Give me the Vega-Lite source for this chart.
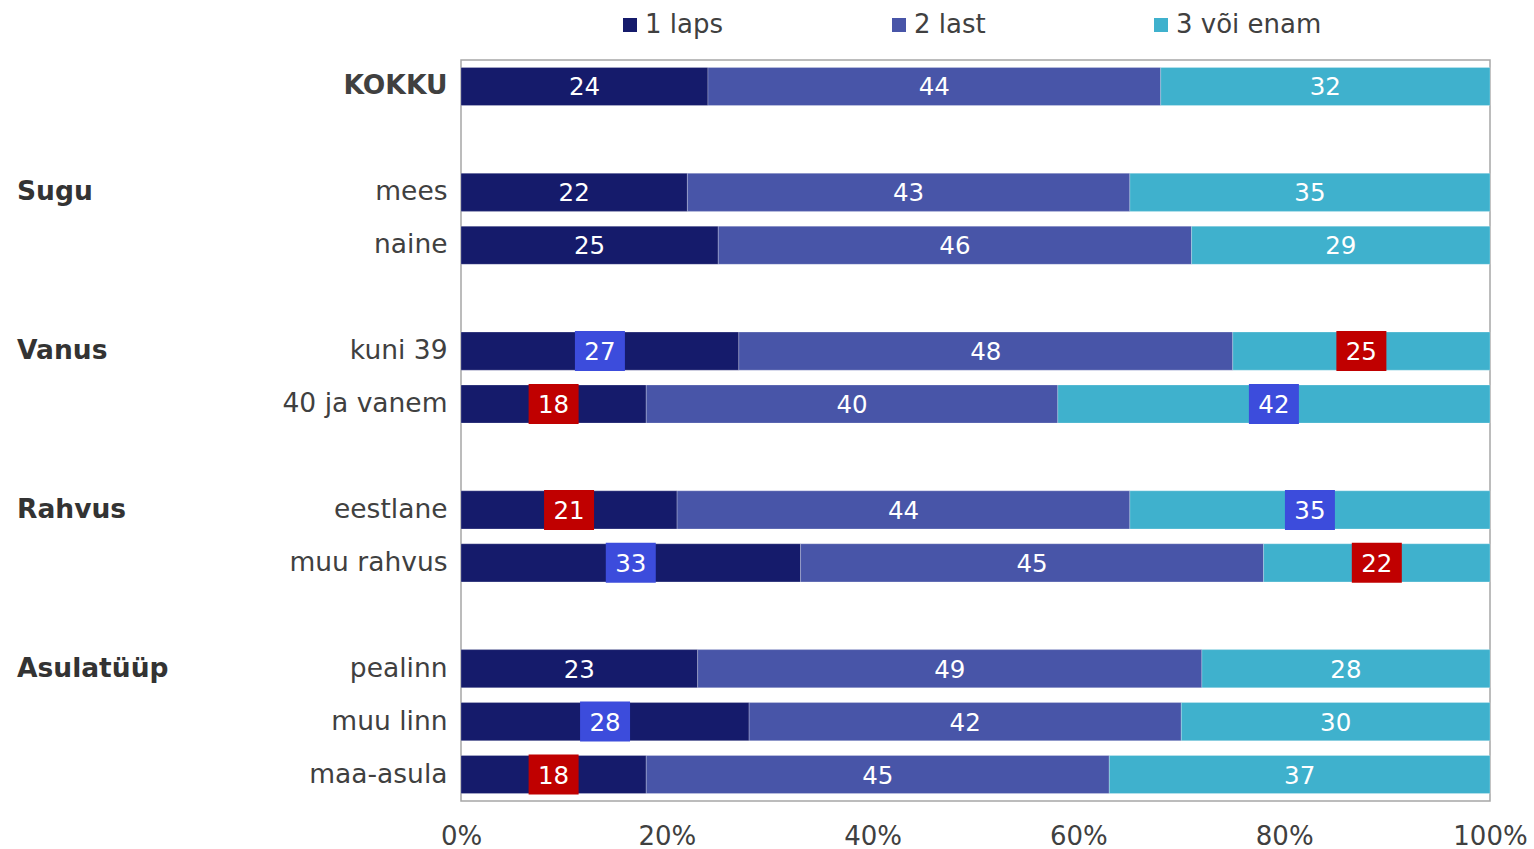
{
  "$schema": "https://vega.github.io/schema/vega-lite/v6.json",
  "width": 1029,
  "height": 741,
  "autosize": {"type": "none"},
  "padding": {"left": 461, "top": 60, "right": 44, "bottom": 48},
  "config": {
    "font": "DejaVu Sans",
    "view": {"stroke": "#a6a6a6", "strokeWidth": 1.5}
  },
  "datasets": {
    "bars": [
      {"row": "KOKKU", "cat": "1 laps", "v": 24, "sig": "n"},
      {"row": "KOKKU", "cat": "2 last", "v": 44, "sig": "n"},
      {"row": "KOKKU", "cat": "3 või enam", "v": 32, "sig": "n"},
      {"row": "mees", "cat": "1 laps", "v": 22, "sig": "n"},
      {"row": "mees", "cat": "2 last", "v": 43, "sig": "n"},
      {"row": "mees", "cat": "3 või enam", "v": 35, "sig": "n"},
      {"row": "naine", "cat": "1 laps", "v": 25, "sig": "n"},
      {"row": "naine", "cat": "2 last", "v": 46, "sig": "n"},
      {"row": "naine", "cat": "3 või enam", "v": 29, "sig": "n"},
      {"row": "kuni 39", "cat": "1 laps", "v": 27, "sig": "h"},
      {"row": "kuni 39", "cat": "2 last", "v": 48, "sig": "n"},
      {"row": "kuni 39", "cat": "3 või enam", "v": 25, "sig": "l"},
      {"row": "40 ja vanem", "cat": "1 laps", "v": 18, "sig": "l"},
      {"row": "40 ja vanem", "cat": "2 last", "v": 40, "sig": "n"},
      {"row": "40 ja vanem", "cat": "3 või enam", "v": 42, "sig": "h"},
      {"row": "eestlane", "cat": "1 laps", "v": 21, "sig": "l"},
      {"row": "eestlane", "cat": "2 last", "v": 44, "sig": "n"},
      {"row": "eestlane", "cat": "3 või enam", "v": 35, "sig": "h"},
      {"row": "muu rahvus", "cat": "1 laps", "v": 33, "sig": "h"},
      {"row": "muu rahvus", "cat": "2 last", "v": 45, "sig": "n"},
      {"row": "muu rahvus", "cat": "3 või enam", "v": 22, "sig": "l"},
      {"row": "pealinn", "cat": "1 laps", "v": 23, "sig": "n"},
      {"row": "pealinn", "cat": "2 last", "v": 49, "sig": "n"},
      {"row": "pealinn", "cat": "3 või enam", "v": 28, "sig": "n"},
      {"row": "muu linn", "cat": "1 laps", "v": 28, "sig": "h"},
      {"row": "muu linn", "cat": "2 last", "v": 42, "sig": "n"},
      {"row": "muu linn", "cat": "3 või enam", "v": 30, "sig": "n"},
      {"row": "maa-asula", "cat": "1 laps", "v": 18, "sig": "l"},
      {"row": "maa-asula", "cat": "2 last", "v": 45, "sig": "n"},
      {"row": "maa-asula", "cat": "3 või enam", "v": 37, "sig": "n"}
    ],
    "groups": [
      {"row": "mees", "g": "Sugu"},
      {"row": "kuni 39", "g": "Vanus"},
      {"row": "eestlane", "g": "Rahvus"},
      {"row": "pealinn", "g": "Asulatüüp"}
    ]
  },
  "layer": [
    {
      "data": {"name": "bars"},
      "mark": {"type": "bar", "stroke": "#ffffff", "strokeWidth": 0.6, "strokeOpacity": 0.4},
      "encoding": {
        "y": {
          "field": "row", "type": "nominal", "sort": null, "title": null,
          "scale": {
            "domain": ["KOKKU", " ", "mees", "naine", "  ", "kuni 39", "40 ja vanem", "   ", "eestlane", "muu rahvus", "    ", "pealinn", "muu linn", "maa-asula"],
            "paddingInner": 0.28, "paddingOuter": 0.14
          },
          "axis": {
            "title": null, "domain": false, "ticks": false,
            "labelFontSize": 26.5, "labelColor": "#404040", "labelPadding": 14,
            "labelFontWeight": {"condition": {"test": "datum.value === 'KOKKU'", "value": "bold"}, "value": "normal"}
          }
        },
        "x": {
          "field": "v", "type": "quantitative", "stack": "normalize", "title": null,
          "scale": {"domain": [0, 1]},
          "axis": {
            "title": null, "format": "%", "values": [0, 0.2, 0.4, 0.6, 0.8, 1],
            "grid": false, "domain": false, "ticks": false, "labelFlush": false,
            "labelFontSize": 26, "labelColor": "#404040", "labelPadding": 22
          }
        },
        "order": {"field": "cat", "sort": "ascending"},
        "color": {
          "field": "cat", "type": "nominal",
          "scale": {"domain": ["1 laps", "2 last", "3 või enam"], "range": ["#151B6B", "#4855A8", "#3FB1CD"]},
          "legend": {
            "orient": "none", "legendX": 156, "legendY": -48, "direction": "horizontal",
            "title": null, "symbolType": "square", "symbolSize": 196, "symbolStrokeWidth": 0,
            "labelFontSize": 26, "labelColor": "#404040", "columnPadding": 162, "labelOffset": 2
          }
        }
      }
    },
    {
      "data": {"name": "bars"},
      "mark": {"type": "point", "shape": "M-1.25,-1H1.25V1H-1.25Z", "size": 1600, "filled": true, "opacity": 1, "strokeWidth": 0},
      "encoding": {
        "y": {"field": "row", "type": "nominal", "sort": null, "title": null},
        "x": {"field": "v", "type": "quantitative", "stack": "normalize", "bandPosition": 0.5, "title": null},
        "detail": {"field": "cat"},
        "order": {"field": "cat", "sort": "ascending"},
        "fill": {
          "field": "sig", "type": "nominal",
          "scale": {"domain": ["n", "h", "l"], "range": ["transparent", "#3C4CDC", "#C00000"]},
          "legend": null
        }
      }
    },
    {
      "data": {"name": "bars"},
      "mark": {"type": "text", "color": "#ffffff", "fontSize": 24.5, "baseline": "middle", "align": "center", "dy": 2},
      "encoding": {
        "y": {"field": "row", "type": "nominal", "sort": null, "title": null},
        "x": {"field": "v", "type": "quantitative", "stack": "normalize", "bandPosition": 0.5, "title": null},
        "detail": {"field": "cat"},
        "order": {"field": "cat", "sort": "ascending"},
        "text": {"field": "v", "type": "quantitative"}
      }
    },
    {
      "data": {"name": "groups"},
      "mark": {"type": "text", "color": "#333333", "fontSize": 26.5, "fontWeight": "bold", "baseline": "middle", "align": "left"},
      "encoding": {
        "y": {"field": "row", "type": "nominal", "sort": null, "title": null},
        "x": {"datum": -0.4315, "type": "quantitative", "title": null},
        "text": {"field": "g"}
      }
    }
  ]
}
